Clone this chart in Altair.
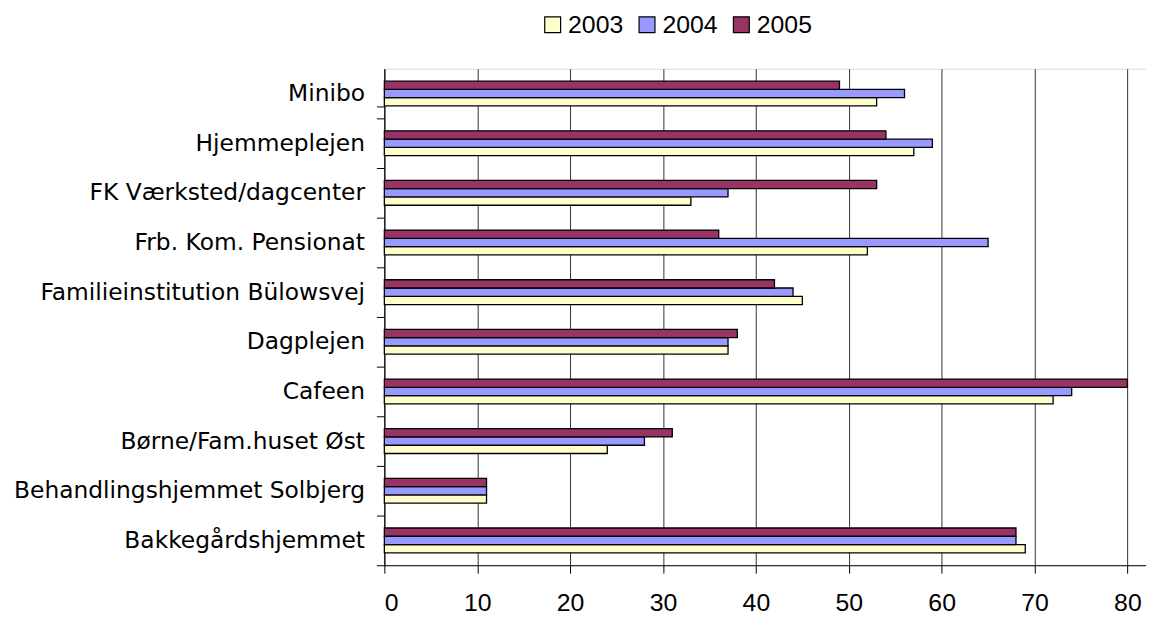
import altair as alt
import pandas as pd

categories = [
    "Minibo",
    "Hjemmeplejen",
    "FK Værksted/dagcenter",
    "Frb. Kom. Pensionat",
    "Familieinstitution Bülowsvej",
    "Dagplejen",
    "Cafeen",
    "Børne/Fam.huset Øst",
    "Behandlingshjemmet Solbjerg",
    "Bakkegårdshjemmet",
]
years = ["2003", "2004", "2005"]
v2003 = [53, 57, 33, 52, 45, 37, 72, 24, 11, 69]
v2004 = [56, 59, 37, 65, 44, 37, 74, 28, 11, 68]
v2005 = [49, 54, 53, 36, 42, 38, 80, 31, 11, 68]
colors = ["#FFFFCC", "#9999FF", "#993366"]
x_ticks = [0, 10, 20, 30, 40, 50, 60, 70, 80]

rows = []
for yr, vals in zip(years, [v2003, v2004, v2005]):
    for c, v in zip(categories, vals):
        rows.append({"Kategori": c, "År": yr, "Værdi": v})
df = pd.DataFrame(rows)

bars = alt.Chart(df).mark_bar(stroke="black", strokeWidth=1.3).encode(
    y=alt.Y(
        "Kategori:N",
        sort=categories,
        scale=alt.Scale(paddingInner=0.5, paddingOuter=0.25),
        axis=alt.Axis(
            title=None,
            tickOffset=25,
            labelOffset=-25,
            tickExtra=True,
            tickSize=8,
            tickColor="black",
            domainColor="black",
            labelFont="DejaVu Sans",
            labelFontSize=23.5,
            labelColor="black",
            labelPadding=12,
            labelLimit=0,
            grid=False,
        ),
    ),
    yOffset=alt.YOffset("År:N", sort=["2005", "2004", "2003"]),
    x=alt.X(
        "Værdi:Q",
        scale=alt.Scale(domain=[0, 82], nice=False),
        axis=alt.Axis(
            title=None,
            values=x_ticks,
            tickSize=8,
            tickColor="black",
            domainColor="black",
            labelFont="Liberation Sans",
            labelFontSize=25,
            labelColor="black",
            labelPadding=18,
            grid=True,
            gridColor="#333333",
            gridWidth=1,
        ),
    ),
    color=alt.Color(
        "År:N",
        sort=years,
        scale=alt.Scale(domain=years, range=colors),
        legend=alt.Legend(
            title=None,
            orient="none",
            direction="horizontal",
            legendX=157,
            legendY=-57,
            symbolType="square",
            symbolSize=256,
            symbolStrokeColor="black",
            symbolStrokeWidth=1.2,
            labelFont="Liberation Sans",
            labelFontSize=25,
            labelColor="black",
            columnPadding=11,
            labelOffset=3,
        ),
    ),
)

chart = bars.properties(
    width=767,
    height=500,
    autosize=alt.AutoSizeParams(type="none"),
    padding={"left": 379, "top": 59, "right": 0, "bottom": 50},
).configure_view(
    stroke="#999999",
    strokeWidth=1,
).configure(background="white")

chart.save("out.html", embed_options={"renderer": "svg", "actions": False})
